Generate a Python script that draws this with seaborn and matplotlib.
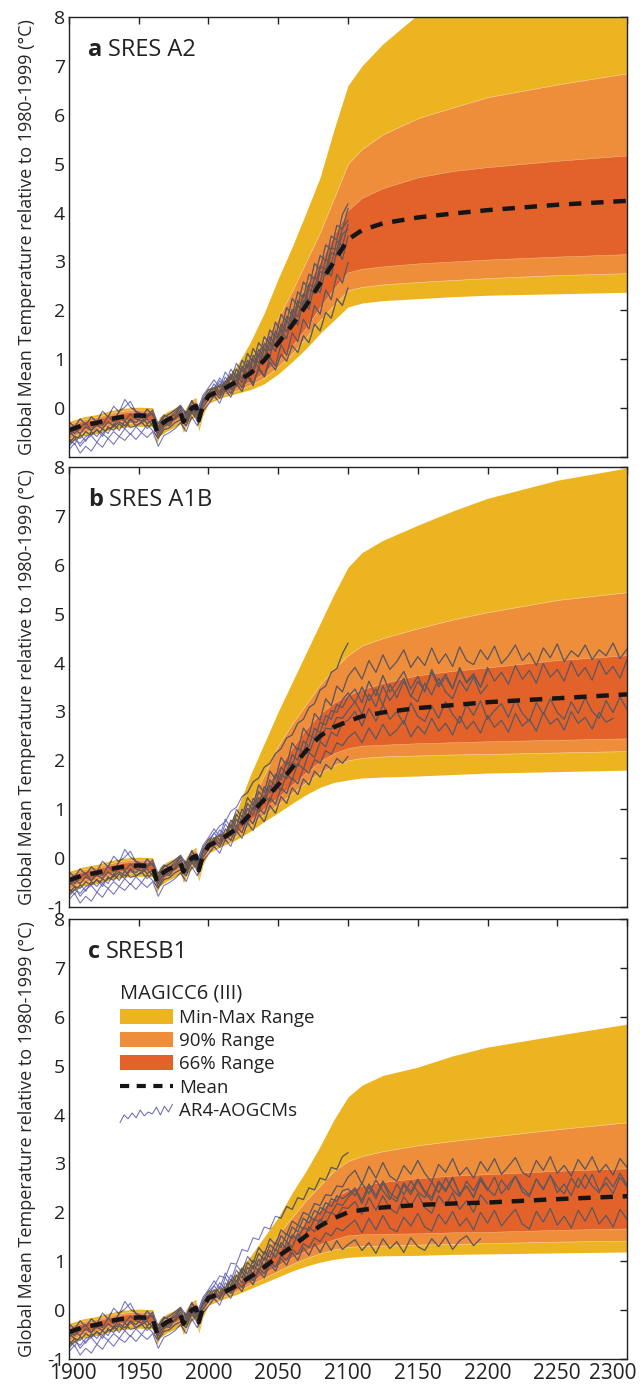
"""Global mean temperature projections: MAGICC6 ranges vs AR4 AOGCM runs."""
import matplotlib
matplotlib.use("Agg")
import matplotlib.pyplot as plt
import matplotlib.transforms as mtransforms
from matplotlib.lines import Line2D
from matplotlib.patches import Patch
from matplotlib.legend_handler import HandlerBase
import numpy as np
import pandas as pd
import seaborn as sns

YELLOW = "#EBB420"
ORANGE = "#EE8E3A"
RED = "#E3622A"
BLUE = "#6262B4"
GRAY = "#66574B"

# ---------------------------------------------------------------- MAGICC6 bands
HIST_YEARS = [1900, 1905, 1910, 1920, 1930, 1940, 1950, 1960, 1963, 1965, 1970,
              1975, 1980, 1982, 1984, 1988, 1991, 1993, 1996, 2000]
HIST_MEAN = [-0.45, -0.40, -0.35, -0.30, -0.22, -0.17, -0.15, -0.16, -0.48, -0.35, -0.25,
             -0.18, -0.10, -0.28, -0.15, 0.00, 0.05, -0.25, 0.05, 0.25]
HIST_LO66 = [-0.55, -0.49, -0.43, -0.38, -0.30, -0.25, -0.23, -0.24, -0.56, -0.43, -0.33,
             -0.26, -0.18, -0.36, -0.23, -0.08, -0.03, -0.33, -0.02, 0.19]
HIST_HI66 = [-0.37, -0.32, -0.27, -0.22, -0.14, -0.09, -0.07, -0.08, -0.40, -0.27, -0.17,
             -0.10, -0.02, -0.20, -0.07, 0.08, 0.13, -0.17, 0.12, 0.31]
HIST_LO90 = [-0.62, -0.55, -0.49, -0.44, -0.36, -0.31, -0.29, -0.30, -0.62, -0.49, -0.39,
             -0.32, -0.24, -0.42, -0.29, -0.14, -0.09, -0.39, -0.08, 0.15]
HIST_HI90 = [-0.32, -0.28, -0.23, -0.18, -0.10, -0.05, -0.03, -0.04, -0.36, -0.23, -0.13,
             -0.06, 0.02, -0.16, -0.03, 0.12, 0.17, -0.13, 0.16, 0.35]
HIST_MIN = [-0.75, -0.64, -0.57, -0.52, -0.44, -0.39, -0.37, -0.38, -0.70, -0.57, -0.47,
            -0.40, -0.32, -0.50, -0.37, -0.22, -0.17, -0.47, -0.14, 0.10]
HIST_MAX = [-0.27, -0.23, -0.18, -0.13, -0.05, 0.00, 0.02, 0.01, -0.31, -0.18, -0.08,
            -0.01, 0.07, -0.11, 0.02, 0.17, 0.22, -0.08, 0.21, 0.40]

FUT_YEARS = [2010, 2020, 2030, 2040, 2050, 2060, 2070, 2080, 2090, 2100,
             2110, 2125, 2150, 2175, 2200, 2250, 2300]

A2_MIN = [0.22, 0.30, 0.38, 0.50, 0.70, 0.95, 1.22, 1.53, 1.80, 2.07, 2.15, 2.20, 2.24, 2.28, 2.31, 2.34, 2.37]
A2_LO90 = [0.27, 0.36, 0.47, 0.62, 0.85, 1.12, 1.45, 1.80, 2.12, 2.41, 2.48, 2.53, 2.58, 2.62, 2.66, 2.72, 2.76]
A2_LO66 = [0.31, 0.42, 0.55, 0.73, 0.98, 1.28, 1.65, 2.07, 2.45, 2.78, 2.85, 2.90, 2.96, 3.00, 3.04, 3.10, 3.15]
A2_MEAN = [0.38, 0.54, 0.71, 0.98, 1.33, 1.70, 2.10, 2.55, 3.00, 3.45, 3.64, 3.78, 3.90, 3.98, 4.05, 4.16, 4.24]
A2_HI66 = [0.45, 0.64, 0.90, 1.20, 1.60, 2.00, 2.50, 3.00, 3.55, 4.05, 4.30, 4.50, 4.72, 4.85, 4.93, 5.06, 5.17]
A2_HI90 = [0.48, 0.72, 1.02, 1.40, 1.85, 2.40, 3.00, 3.60, 4.30, 5.00, 5.30, 5.60, 5.93, 6.15, 6.36, 6.62, 6.85]
A2_MAX = [0.50, 0.85, 1.35, 1.95, 2.65, 3.30, 4.00, 4.72, 5.70, 6.60, 7.00, 7.45, 8.05, 8.40, 8.70, 9.10, 9.50]

A1B_MIN = [0.25, 0.38, 0.55, 0.75, 0.93, 1.12, 1.30, 1.45, 1.55, 1.60, 1.64, 1.66, 1.68, 1.71, 1.74, 1.77, 1.80]
A1B_LO90 = [0.30, 0.46, 0.68, 0.90, 1.10, 1.33, 1.55, 1.75, 1.90, 2.00, 2.05, 2.08, 2.10, 2.12, 2.13, 2.16, 2.19]
A1B_LO66 = [0.34, 0.52, 0.78, 1.02, 1.25, 1.50, 1.75, 1.98, 2.15, 2.25, 2.30, 2.32, 2.35, 2.37, 2.39, 2.42, 2.45]
A1B_MEAN = [0.40, 0.60, 0.90, 1.20, 1.50, 1.85, 2.20, 2.50, 2.68, 2.80, 2.90, 2.98, 3.07, 3.13, 3.19, 3.27, 3.35]
A1B_HI66 = [0.44, 0.68, 1.02, 1.40, 1.85, 2.25, 2.65, 2.95, 3.18, 3.33, 3.45, 3.58, 3.74, 3.83, 3.90, 4.05, 4.15]
A1B_HI90 = [0.46, 0.72, 1.15, 1.70, 2.30, 2.75, 3.15, 3.55, 3.88, 4.15, 4.35, 4.50, 4.70, 4.88, 5.03, 5.28, 5.44]
A1B_MAX = [0.50, 0.95, 1.70, 2.35, 3.00, 3.60, 4.20, 4.80, 5.40, 5.95, 6.25, 6.50, 6.81, 7.10, 7.36, 7.73, 7.98]

B1_MIN = [0.22, 0.32, 0.44, 0.56, 0.68, 0.80, 0.90, 0.98, 1.04, 1.08, 1.10, 1.11, 1.12, 1.14, 1.15, 1.17, 1.19]
B1_LO90 = [0.27, 0.38, 0.52, 0.66, 0.80, 0.94, 1.06, 1.16, 1.24, 1.29, 1.31, 1.32, 1.34, 1.35, 1.37, 1.40, 1.42]
B1_LO66 = [0.30, 0.42, 0.58, 0.75, 0.92, 1.08, 1.22, 1.35, 1.45, 1.53, 1.55, 1.56, 1.57, 1.59, 1.60, 1.64, 1.67]
B1_MEAN = [0.35, 0.50, 0.68, 0.88, 1.10, 1.30, 1.52, 1.72, 1.88, 2.00, 2.05, 2.10, 2.15, 2.18, 2.20, 2.27, 2.33]
B1_HI66 = [0.38, 0.55, 0.75, 1.00, 1.25, 1.50, 1.80, 2.05, 2.30, 2.45, 2.55, 2.62, 2.70, 2.75, 2.78, 2.85, 2.90]
B1_HI90 = [0.40, 0.62, 0.90, 1.20, 1.55, 1.90, 2.25, 2.55, 2.85, 3.05, 3.15, 3.25, 3.37, 3.46, 3.54, 3.70, 3.84]
B1_MAX = [0.45, 0.75, 1.10, 1.50, 1.90, 2.40, 2.85, 3.35, 3.90, 4.36, 4.60, 4.80, 4.97, 5.20, 5.38, 5.62, 5.85]

# ---------------------------------------------------------------- AOGCM runs
RUN_HIST_YEARS = list(range(1900, 2001, 4))
RUN_SCEN_YEARS = list(range(2004, 2101, 4))
RUN_EXT_YEARS = list(range(2105, 2301, 5))

HIST_RUNS = [
    [-0.85, -0.72, -0.92, -0.78, -0.88, -0.70, -0.80, -0.62, -0.74, -0.58, -0.66, -0.52, -0.64,
     -0.50, -0.60, -0.48, -0.78, -0.56, -0.50, -0.42, -0.30, -0.48, -0.18, -0.36, -0.06, 0.08],
    [-0.62, -0.74, -0.54, -0.68, -0.48, -0.58, -0.42, -0.52, -0.32, -0.46, -0.26, -0.40, -0.36,
     -0.28, -0.42, -0.30, -0.58, -0.38, -0.30, -0.22, -0.10, -0.30, -0.02, -0.22, 0.10, 0.24],
    [-0.38, -0.52, -0.40, -0.30, -0.46, -0.26, -0.36, -0.16, -0.28, -0.06, 0.02, 0.14, -0.08,
     -0.18, -0.02, -0.14, -0.38, -0.18, -0.12, -0.04, 0.06, -0.10, 0.14, -0.04, 0.22, 0.38],
    [-0.72, -0.58, -0.78, -0.64, -0.56, -0.70, -0.52, -0.62, -0.48, -0.58, -0.42, -0.54, -0.38,
     -0.50, -0.34, -0.46, -0.62, -0.44, -0.40, -0.30, -0.24, -0.36, -0.08, -0.26, 0.02, 0.18],
    [-0.28, -0.38, -0.22, -0.34, -0.18, -0.28, -0.06, -0.18, 0.04, -0.08, 0.18, 0.02, -0.06,
     -0.12, -0.16, -0.04, -0.32, -0.14, -0.20, -0.08, 0.02, -0.12, 0.16, -0.06, 0.26, 0.42],
    [-0.78, -0.64, -0.72, -0.58, -0.54, -0.44, -0.58, -0.38, -0.46, -0.32, -0.42, -0.24, -0.36,
     -0.30, -0.22, -0.36, -0.52, -0.30, -0.36, -0.18, -0.14, -0.26, 0.02, -0.16, 0.12, 0.28],
    [-0.48, -0.58, -0.62, -0.48, -0.56, -0.44, -0.52, -0.42, -0.38, -0.28, -0.36, -0.22, -0.30,
     -0.18, -0.32, -0.24, -0.46, -0.34, -0.24, -0.20, -0.04, -0.22, 0.06, -0.12, 0.16, 0.30],
    [-0.56, -0.44, -0.52, -0.38, -0.46, -0.34, -0.42, -0.28, -0.36, -0.18, -0.26, -0.12, -0.22,
     -0.26, -0.18, -0.10, -0.42, -0.24, -0.18, -0.14, 0.02, -0.16, 0.06, -0.10, 0.16, 0.32],
]

A2_RUNS = [
    [0.26, 0.10, 0.38, 0.22, 0.50, 0.34, 0.66, 0.46, 0.84, 0.66, 1.04, 0.86, 1.30, 1.08, 1.54,
     1.36, 1.82, 1.62, 2.10, 1.92, 2.42, 2.22, 2.74, 2.56, 2.98],
    [0.42, 0.26, 0.56, 0.38, 0.70, 0.52, 0.90, 0.70, 1.10, 0.92, 1.34, 1.16, 1.60, 1.42, 1.90,
     1.70, 2.20, 2.02, 2.52, 2.36, 2.86, 2.70, 3.22, 3.04, 3.52],
    [0.40, 0.62, 0.46, 0.80, 0.62, 0.98, 0.82, 1.22, 1.04, 1.46, 1.32, 1.76, 1.58, 2.06, 1.90,
     2.38, 2.26, 2.74, 2.64, 3.12, 3.02, 3.52, 3.44, 3.96, 4.18],
    [0.34, 0.20, 0.46, 0.30, 0.58, 0.42, 0.68, 0.52, 0.80, 0.64, 0.94, 0.78, 1.10, 0.96, 1.28,
     1.14, 1.48, 1.34, 1.72, 1.58, 1.96, 1.84, 2.24, 2.10, 2.46],
    [0.58, 0.42, 0.74, 0.58, 0.92, 0.74, 1.12, 0.94, 1.34, 1.18, 1.60, 1.46, 1.92, 1.76, 2.24,
     2.10, 2.58, 2.46, 2.96, 2.84, 3.34, 3.24, 3.74, 3.66, 4.08],
    [0.28, 0.50, 0.34, 0.64, 0.46, 0.80, 0.62, 1.00, 0.82, 1.22, 1.06, 1.48, 1.34, 1.78, 1.64,
     2.10, 1.98, 2.44, 2.34, 2.80, 2.72, 3.18, 3.12, 3.56, 3.66],
    [0.50, 0.32, 0.64, 0.46, 0.80, 0.60, 0.98, 0.80, 1.20, 1.02, 1.46, 1.28, 1.72, 1.56, 2.02,
     1.86, 2.34, 2.20, 2.68, 2.56, 3.04, 2.94, 3.42, 3.32, 3.76],
    [0.34, 0.56, 0.40, 0.70, 0.54, 0.86, 0.70, 1.08, 0.92, 1.32, 1.18, 1.58, 1.44, 1.88, 1.76,
     2.20, 2.10, 2.54, 2.46, 2.90, 2.84, 3.28, 3.24, 3.68, 3.84],
]

A1B_RUNS = [
    [0.24, 0.10, 0.38, 0.24, 0.56, 0.40, 0.72, 0.56, 0.90, 0.74, 1.08, 0.92, 1.26, 1.12, 1.44,
     1.30, 1.62, 1.50, 1.78, 1.66, 1.92, 1.82, 2.04, 1.94, 2.08],
    [0.42, 0.28, 0.60, 0.46, 0.80, 0.66, 1.02, 0.88, 1.24, 1.12, 1.48, 1.36, 1.72, 1.62, 1.96,
     1.88, 2.20, 2.14, 2.44, 2.40, 2.66, 2.64, 2.88, 2.86, 3.02],
    [0.50, 0.66, 0.74, 0.96, 1.04, 1.26, 1.34, 1.56, 1.64, 1.86, 1.94, 2.14, 2.24, 2.46, 2.52,
     2.76, 2.84, 3.08, 3.16, 3.44, 3.52, 3.80, 3.88, 4.18, 4.40],
    [0.36, 0.22, 0.50, 0.36, 0.66, 0.52, 0.84, 0.70, 1.04, 0.90, 1.24, 1.10, 1.44, 1.32, 1.64,
     1.52, 1.84, 1.74, 2.02, 1.94, 2.20, 2.12, 2.36, 2.30, 2.46],
    [0.60, 0.44, 0.80, 0.62, 1.00, 0.84, 1.24, 1.08, 1.50, 1.34, 1.78, 1.62, 2.06, 1.90, 2.36,
     2.20, 2.66, 2.50, 2.96, 2.82, 3.26, 3.12, 3.52, 3.40, 3.72],
    [0.30, 0.50, 0.38, 0.68, 0.54, 0.86, 0.72, 1.06, 0.94, 1.28, 1.16, 1.50, 1.38, 1.72, 1.60,
     1.94, 1.82, 2.16, 2.06, 2.38, 2.28, 2.58, 2.50, 2.76, 2.82],
    [0.52, 0.36, 0.70, 0.54, 0.90, 0.74, 1.12, 0.98, 1.36, 1.22, 1.60, 1.48, 1.86, 1.74, 2.12,
     2.00, 2.40, 2.28, 2.66, 2.56, 2.92, 2.84, 3.14, 3.08, 3.30],
    [0.36, 0.58, 0.44, 0.78, 0.64, 1.00, 0.86, 1.22, 1.10, 1.46, 1.34, 1.72, 1.60, 1.98, 1.88,
     2.26, 2.16, 2.52, 2.44, 2.78, 2.72, 3.02, 2.98, 3.24, 3.38],
]
# continuations after 2100 (None = run stops in 2100)
A1B_EXT = [
    None,
    [3.20, 2.94, 3.36, 3.10, 3.52, 3.22, 3.44, 3.68, 3.30, 3.62, 3.42, 3.80, 3.50, 3.70, 3.46,
     3.86, 3.58, 3.74, 3.50, 3.90, 3.62, 3.80, 3.56, 3.94, 3.66, 3.84, 3.58, 3.98, 3.70, 3.86,
     3.62, 4.02, 3.72, 3.90, 3.64, 4.04, 3.76, 3.92, 3.68, 4.06],
    None,
    [2.58, 2.36, 2.66, 2.44, 2.74, 2.50, 2.62, 2.82, 2.48, 2.70, 2.54, 2.86, 2.60, 2.76, 2.52,
     2.90, 2.64, 2.80, 2.56, 2.92, 2.68, 2.82, 2.58, 2.96, 2.70, 2.84, 2.60, 2.98, 2.74, 2.86,
     2.62, 3.00, 2.76, 2.88, 2.64, 2.98, 2.78, 2.86],
    [3.90, 3.66, 4.04, 3.80, 4.16, 3.86, 4.02, 4.26, 3.90, 4.12, 3.94, 4.30, 3.98, 4.18, 3.92,
     4.32, 4.04, 3.96, 4.26, 4.06, 4.34, 3.98, 4.14, 4.36, 4.04, 4.20, 3.94, 4.30, 4.10, 4.38,
     4.02, 4.24, 4.12, 4.36, 4.06, 4.26, 4.14, 4.40, 4.08, 4.28],
    [3.00, 2.70, 3.06, 2.80, 3.14, 2.84, 3.00, 2.74, 3.18, 2.90, 2.80, 3.12, 2.86, 3.20, 2.94,
     2.76, 3.14, 2.92, 3.22, 2.84, 3.02, 3.16, 2.88, 3.24, 2.96, 2.80, 3.18, 2.94, 3.26, 2.98,
     2.84, 3.20, 2.96, 3.28, 3.00, 2.86, 3.22, 2.98, 3.30, 3.04],
    [3.46, 3.18, 3.62, 3.32, 3.74, 3.40, 3.60, 3.82, 3.46, 3.72, 3.40, 3.86, 3.56, 3.76, 3.48,
     3.90, 3.60, 3.78, 3.50, 3.84],
    [3.18, 3.50, 3.22, 3.46, 3.12, 3.56, 3.28, 3.62, 3.32, 3.20, 3.58, 3.34, 3.68, 3.40, 3.26,
     3.64, 3.42, 3.70, 3.36, 3.54],
]

B1_RUNS = [
    [0.24, 0.10, 0.38, 0.24, 0.52, 0.38, 0.66, 0.52, 0.80, 0.66, 0.94, 0.80, 1.06, 0.92, 1.18,
     1.02, 1.28, 1.12, 1.36, 1.18, 1.40, 1.22, 1.42, 1.24, 1.34],
    [0.42, 0.26, 0.56, 0.42, 0.72, 0.56, 0.88, 0.74, 1.04, 0.90, 1.22, 1.08, 1.38, 1.26, 1.54,
     1.44, 1.70, 1.62, 1.86, 1.80, 2.02, 1.98, 2.18, 2.14, 2.30],
    [0.50, 0.70, 0.66, 0.96, 0.94, 1.24, 1.20, 1.48, 1.44, 1.70, 1.66, 1.92, 1.88, 2.12, 2.06,
     2.30, 2.26, 2.50, 2.46, 2.70, 2.66, 2.92, 2.88, 3.14, 3.22],
    [0.34, 0.22, 0.46, 0.34, 0.60, 0.46, 0.72, 0.60, 0.86, 0.74, 1.00, 0.88, 1.12, 1.02, 1.24,
     1.14, 1.36, 1.28, 1.48, 1.40, 1.58, 1.52, 1.68, 1.62, 1.72],
    [0.60, 0.44, 0.76, 0.60, 0.92, 0.78, 1.10, 0.96, 1.28, 1.14, 1.46, 1.34, 1.64, 1.54, 1.82,
     1.74, 2.00, 1.94, 2.18, 2.14, 2.36, 2.34, 2.54, 2.52, 2.72],
    [0.30, 0.48, 0.36, 0.62, 0.50, 0.78, 0.64, 0.92, 0.80, 1.08, 0.96, 1.24, 1.12, 1.40, 1.28,
     1.56, 1.44, 1.70, 1.60, 1.86, 1.76, 2.00, 1.92, 2.10, 2.08],
    [0.50, 0.34, 0.66, 0.50, 0.82, 0.66, 0.98, 0.84, 1.16, 1.02, 1.34, 1.22, 1.52, 1.40, 1.70,
     1.60, 1.88, 1.78, 2.04, 1.96, 2.20, 2.12, 2.34, 2.28, 2.36],
    [0.34, 0.56, 0.44, 0.72, 0.58, 0.86, 0.74, 1.02, 0.90, 1.20, 1.08, 1.38, 1.28, 1.56, 1.46,
     1.74, 1.66, 1.92, 1.84, 2.10, 2.04, 2.28, 2.22, 2.44, 2.48],
]
B1_EXT = [
    [1.44, 1.22, 1.38, 1.16, 1.46, 1.26, 1.40, 1.18, 1.48, 1.30, 1.22, 1.46, 1.30, 1.50, 1.24,
     1.42, 1.52, 1.32, 1.46],
    [2.46, 2.18, 2.52, 2.28, 2.60, 2.32, 2.22, 2.56, 2.36, 2.64, 2.40, 2.24, 2.60, 2.42, 2.70,
     2.36, 2.54, 2.30, 2.66, 2.44, 2.72, 2.38, 2.56, 2.74, 2.42, 2.32, 2.68, 2.46, 2.76, 2.40,
     2.58, 2.34, 2.70, 2.48, 2.78, 2.44, 2.60, 2.38, 2.72, 2.52],
    None,
    [1.84, 1.58, 1.88, 1.64, 1.94, 1.68, 1.60, 1.90, 1.72, 1.98, 1.70, 1.62, 1.96, 1.76, 2.02,
     1.72, 1.88, 1.64, 2.00, 1.78, 2.04, 1.72, 1.90, 2.06, 1.76, 1.66, 2.02, 1.80, 2.08, 1.74,
     1.92, 1.68, 2.04, 1.82, 2.10, 1.76, 1.94, 1.70, 2.06, 1.86],
    [2.86, 2.58, 2.94, 2.70, 3.02, 2.74, 2.64, 2.96, 2.78, 3.06, 2.80, 2.62, 2.98, 2.82, 3.10,
     2.76, 2.92, 2.70, 3.04, 2.84, 3.10, 2.78, 2.94, 3.12, 2.82, 2.72, 3.06, 2.86, 3.14, 2.80,
     2.96, 2.74, 3.08, 2.88, 3.14, 2.82, 2.98, 2.76, 3.10, 2.92],
    [2.22, 1.96, 2.30, 2.04, 2.34, 2.08, 1.98, 2.32, 2.12, 2.38, 2.10, 1.98, 2.34, 2.14, 2.40,
     2.06, 2.24, 2.00, 2.36, 2.18],
    [2.50, 2.24, 2.58, 2.34, 2.64, 2.40, 2.28, 2.60, 2.42, 2.68, 2.44, 2.30, 2.64, 2.46, 2.72,
     2.38, 2.54, 2.32, 2.66, 2.48],
    [2.34, 2.60, 2.38, 2.66, 2.44, 2.26, 2.58, 2.36, 2.64, 2.42, 2.30, 2.62, 2.40, 2.70, 2.46,
     2.32, 2.64, 2.44, 2.72, 2.48, 2.34, 2.66, 2.46, 2.74, 2.50, 2.36, 2.68, 2.48, 2.76, 2.52,
     2.38, 2.70, 2.50, 2.78, 2.54, 2.40, 2.72, 2.52, 2.80, 2.56],
]

PANELS = [
    ("a", "SRES A2", (A2_MIN, A2_LO90, A2_LO66, A2_MEAN, A2_HI66, A2_HI90, A2_MAX),
     A2_RUNS, [None] * 8),
    ("b", "SRES A1B", (A1B_MIN, A1B_LO90, A1B_LO66, A1B_MEAN, A1B_HI66, A1B_HI90, A1B_MAX),
     A1B_RUNS, A1B_EXT),
    ("c", "SRESB1", (B1_MIN, B1_LO90, B1_LO66, B1_MEAN, B1_HI66, B1_HI90, B1_MAX),
     B1_RUNS, B1_EXT),
]

LEGEND_ZIGZAG = [0.05, 0.45, 0.25, 0.55, 0.3, 0.7, 0.4, 0.6, 0.5, 0.85, 0.45, 0.9, 0.6, 1.0]


class NoisyLineHandler(HandlerBase):
    def create_artists(self, legend, orig_handle, xdescent, ydescent,
                       width, height, fontsize, trans):
        xs = np.linspace(0, width, len(LEGEND_ZIGZAG)) - xdescent
        ys = np.array(LEGEND_ZIGZAG) * height * 1.3 - ydescent - 0.45 * height
        return [Line2D(xs, ys, color=BLUE, lw=0.7, transform=trans)]


def runs_frame(scen_runs, ext_runs):
    rows = []
    for i, (hist, scen, ext) in enumerate(zip(HIST_RUNS, scen_runs, ext_runs)):
        years = RUN_HIST_YEARS + RUN_SCEN_YEARS
        vals = hist + scen
        if ext is not None:
            years = years + RUN_EXT_YEARS[:len(ext)]
            vals = vals + ext
        rows.append(pd.DataFrame({"run": i, "year": years, "temp": vals}))
    return pd.concat(rows, ignore_index=True)


sns.set_theme(style="white")
plt.rcParams.update({
    "font.family": ["Open Sans", "DejaVu Sans"],
    "axes.edgecolor": "#222222",
    "axes.linewidth": 1.0,
    "xtick.direction": "in",
    "ytick.direction": "in",
    "xtick.major.size": 5,
    "ytick.major.size": 5,
    "xtick.major.width": 1.0,
    "ytick.major.width": 1.0,
    "xtick.top": True,
    "ytick.right": True,
    "xtick.labelsize": 15,
    "ytick.labelsize": 14,
    "text.color": "#222222",
    "xtick.color": "#222222",
    "ytick.color": "#222222",
})

fig = plt.figure(figsize=(6.4, 13.85), dpi=100)
bottoms = [0.6700, 0.3451, 0.01877]
band_years = HIST_YEARS + FUT_YEARS

for k, (letter, name, bands, scen_runs, ext_runs) in enumerate(PANELS):
    ax = fig.add_axes([0.1078, bottoms[k], 0.8719, 0.3177])
    lo_min, lo90, lo66, mean, hi66, hi90, hi_max = bands
    outer = ax.fill_between(band_years, HIST_MIN + lo_min, HIST_MAX + hi_max,
                            color=YELLOW, lw=0, zorder=1)
    ax.fill_between(band_years, HIST_LO90 + lo90, HIST_HI90 + hi90,
                    facecolor=ORANGE, edgecolor="#F7DDB0", lw=0.4, zorder=1.1)
    ax.fill_between(band_years, HIST_LO66 + lo66, HIST_HI66 + hi66,
                    facecolor=RED, edgecolor="#F2C9A0", lw=0.3, zorder=1.2)

    df = runs_frame(scen_runs, ext_runs)
    sns.lineplot(data=df, x="year", y="temp", units="run", estimator=None,
                 color=BLUE, lw=0.75, alpha=0.9, legend=False, ax=ax, zorder=2)
    n0 = len(ax.lines)
    sns.lineplot(data=df, x="year", y="temp", units="run", estimator=None,
                 color=GRAY, lw=0.8, legend=False, ax=ax, zorder=3)
    clip = outer.get_paths()[0]
    for line in ax.lines[n0:]:
        line.set_clip_path(clip, ax.transData)

    sns.lineplot(x=band_years, y=HIST_MEAN + mean, color="#151515", lw=3.2,
                 ax=ax, zorder=4)
    ax.lines[-1].set_dashes([2.8, 2.2])

    ax.set_xlim(1900, 2300)
    ax.set_ylim(-1, 8)
    ax.set_xticks(range(1900, 2301, 50))
    ax.set_yticks(range(-1, 9))
    ylabels = [str(v) for v in range(-1, 9)]
    if k == 0:
        ylabels[0] = ""
    ax.set_yticklabels(ylabels)
    ax.tick_params(axis="both", pad=3)
    if k < 2:
        ax.set_xticklabels([])
    else:
        xl = ax.get_xticklabels()
        xl[0].set_transform(xl[0].get_transform() + mtransforms.ScaledTranslation(
            4 / 100, 0, fig.dpi_scale_trans))
        xl[-1].set_transform(xl[-1].get_transform() + mtransforms.ScaledTranslation(
            -14 / 100, 0, fig.dpi_scale_trans))
    ax.set_xlabel("")
    ax.set_ylabel("Global Mean Temperature relative to 1980-1999 (°C)",
                  fontsize=13)
    ax.yaxis.set_label_coords(-0.060, 0.5)
    for s in ax.spines.values():
        s.set_zorder(6)

    t = ax.text(0.034, 0.925, letter, transform=ax.transAxes, fontsize=17,
                fontweight="bold", va="center", ha="left")
    ax.annotate(name, xy=(1, 0.5), xycoords=t, xytext=(4, 0),
                textcoords="offset points", va="center", ha="left", fontsize=17)

    if k == 2:
        handles = [
            Patch(facecolor=YELLOW, edgecolor="none"),
            Patch(facecolor=ORANGE, edgecolor="none"),
            Patch(facecolor=RED, edgecolor="none"),
            Line2D([], [], color="#151515", lw=3.0, dashes=[2.2, 1.8]),
            Line2D([], [], color=BLUE),
        ]
        labels = ["Min-Max Range", "90% Range", "66% Range", "Mean", "AR4-AOGCMs"]
        leg = ax.legend(handles, labels, loc="upper left",
                        bbox_to_anchor=(0.078, 0.87), frameon=False,
                        title="MAGICC6 (III)", title_fontsize=14.5, fontsize=13.5,
                        handlelength=2.8, handleheight=0.85, labelspacing=0.28,
                        handletextpad=0.35, borderaxespad=0, alignment="left",
                        handler_map={handles[-1]: NoisyLineHandler()})

fig.savefig("out.png", dpi=100)
